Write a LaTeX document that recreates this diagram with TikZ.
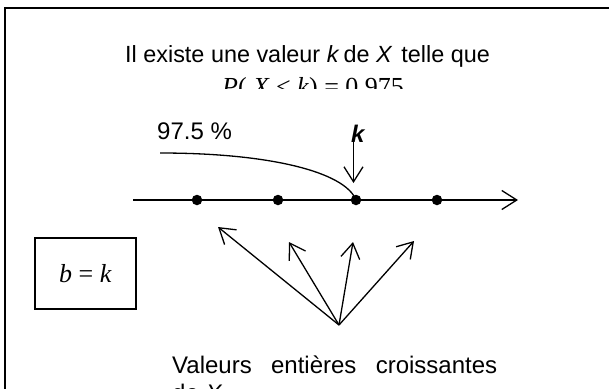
\documentclass[tikz,border=0pt]{standalone}
\usepackage{fontspec}
\setmainfont{Liberation Sans}
\newfontfamily\tnr{Liberation Serif}
\usetikzlibrary{arrows.meta}
\tikzset{
  ln/.style={line width=1.3pt},
  barb/.style={-{Straight Barb[length=15pt,width=19pt,line width=1.3pt]}},
  dot/.style={circle,fill=black,inner sep=0pt,minimum size=10.5pt},
  txt/.style={inner sep=0pt,font=\fontsize{24}{27.6}\selectfont},
  serif/.style={inner sep=0pt,font=\fontsize{26}{30}\selectfont\tnr},
}
\begin{document}
\begin{tikzpicture}[x=1pt,y=-1pt]
\clip (0,0) rectangle (609,388);
\fill[white] (0,0) rectangle (609,388);
% frame (only top and left visible)
\coordinate (fc) at (4.5,8);
\draw[line width=2pt] (fc |- 0,420) -- (fc) -- (fc -| 640,0);
% title
\node[txt,font=\fontsize{23.4}{27}\selectfont,anchor=base west] (t1) at (125,62) {Il existe une valeur \textit{k}\hspace{-0.1em} de \textit{X}\hspace{0.1em} telle que};
\begin{scope}
\clip (0,0) rectangle (609,88);
\node[serif,anchor=base west] (t2) at (222,95) {\textit{P}( \textit{X} ≤ \textit{k}) = 0.975};
\end{scope}
% axis
\coordinate (ax0) at (133,200);
\coordinate (ax1) at (518,200);
\draw[ln,barb] (ax0) -- (ax1);
\node[dot] (d1) at (197,200) {};
\node[dot] (d2) at (278,200) {};
\node[dot] (d3) at (356,200) {};
\node[dot] (d4) at (437,200) {};
% 97.5 % and curve
\node[txt,anchor=base west] (pct) at (157,139) {97.5 \%};
\coordinate (cs) at (160,153);
\draw[ln] (cs) .. controls (270,153) and (345,172) .. (d3.center);
% k arrow
\node[txt,anchor=base west] (klab) at (351,142) {\textbf{\textit{k}}};
\coordinate (ktop) at (353.5,140);
\coordinate (ktip) at (353.5,183);
\draw[ln,barb] (ktop) -- (ktip);
% box
\node[serif,draw,line width=1.3pt,minimum width=101pt,minimum height=71pt] (box) at (85.5,273.5) {\textit{b} = \textit{k}};
% arrows from bottom
\coordinate (cv) at (339,325);
\coordinate (a1) at (218,227);
\coordinate (a2) at (289,242);
\coordinate (a3) at (353,242);
\coordinate (a4) at (414,241);
\foreach \t in {a1,a2,a3,a4} \draw[ln,barb] (cv) -- (\t);
% bottom text
\node[txt,anchor=base west] (v1) at (172,373) {\makebox[325pt][s]{Valeurs entières croissantes}};
\node[txt,anchor=base west] (v2) at (172,401) {de \textit{X}};
\end{tikzpicture}
\end{document}
